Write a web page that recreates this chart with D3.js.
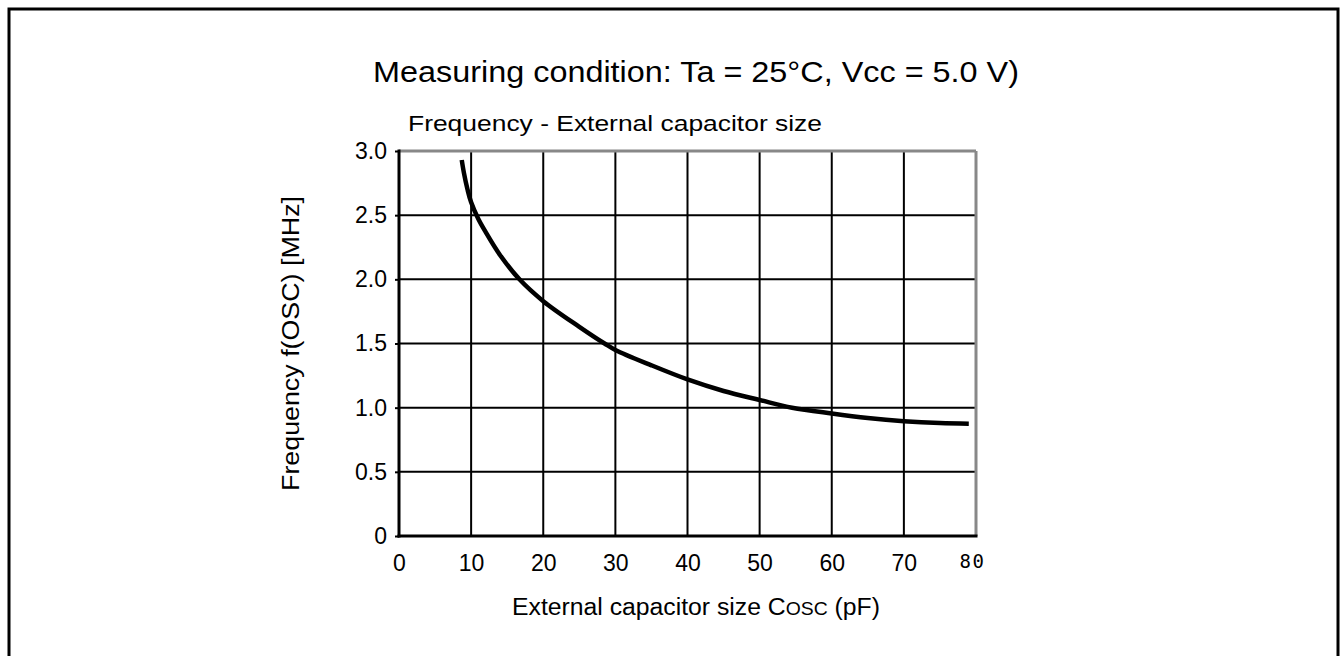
<!DOCTYPE html>
<html>
<head>
<meta charset="utf-8">
<script src="https://cdn.jsdelivr.net/npm/d3@7"></script>
<style>
  body { margin: 0; background: #fff; }
  svg { display: block; font-family: "Liberation Sans", Arial, sans-serif; }
</style>
</head>
<body>
<script>
// data
var capValues = [8.7, 9, 9.5, 10, 11, 12, 14, 16.7, 20, 25, 28.5, 30, 35, 40, 45, 50, 54.5, 60, 65, 70, 75, 79];
var freqValues = [2.93, 2.83, 2.7, 2.6, 2.47, 2.37, 2.19, 2.0, 1.83, 1.63, 1.5, 1.45, 1.33, 1.22, 1.13, 1.06, 1.0, 0.955, 0.92, 0.895, 0.88, 0.875];
var xTicks = [0, 10, 20, 30, 40, 50, 60, 70, 80];
var xTickLabels = ["0", "10", "20", "30", "40", "50", "60", "70", "80"];
var yTicks = [0, 0.5, 1.0, 1.5, 2.0, 2.5, 3.0];
var yTickLabels = ["0", "0.5", "1.0", "1.5", "2.0", "2.5", "3.0"];

var width = 1340, height = 656;
var svg = d3.select("body").append("svg")
            .attr("width", width)
            .attr("height", height);

// frame
svg.append("rect").attr("x", 9).attr("y", 9).attr("width", 1329).attr("height", 660)
   .attr("fill", "none").attr("stroke", "#000").attr("stroke-width", 3);

var padding = {left: 399, right: 364, top: 151, bottom: 120};
var w = width - padding.left - padding.right;
var h = height - padding.top - padding.bottom;

var xScale = d3.scaleLinear().domain([0, 80]).range([0, w]);
var yScale = d3.scaleLinear().domain([0, 3]).range([h, 0]);

var g = svg.append("g").attr("transform", "translate(" + padding.left + "," + padding.top + ")");

// grid
g.append("g").selectAll("line").data(xTicks.slice(1, -1)).enter().append("line")
 .attr("x1", function(d) { return xScale(d); }).attr("x2", function(d) { return xScale(d); })
 .attr("y1", 0).attr("y2", h).attr("stroke", "#000").attr("stroke-width", 2);
g.append("g").selectAll("line").data(yTicks.slice(1, -1)).enter().append("line")
 .attr("y1", function(d) { return yScale(d); }).attr("y2", function(d) { return yScale(d); })
 .attr("x1", 0).attr("x2", w).attr("stroke", "#000").attr("stroke-width", 2);

// top and right edges (gray)
g.append("line").attr("x1", 0).attr("x2", w).attr("y1", 0).attr("y2", 0)
 .attr("stroke", "#888").attr("stroke-width", 3);
g.append("line").attr("x1", w).attr("x2", w).attr("y1", 0).attr("y2", h)
 .attr("stroke", "#888").attr("stroke-width", 3);

// axes
var yAxis = d3.axisLeft(yScale).tickValues(yTicks).tickSize(4).tickPadding(8)
              .tickFormat(function(d, i) { return yTickLabels[i]; });
var xAxis = d3.axisBottom(xScale).tickValues(xTicks).tickSize(0).tickPadding(19)
              .tickFormat(function(d, i) { return xTickLabels[i]; });

var ya = g.append("g").call(yAxis);
ya.select(".domain").attr("stroke", "#000").attr("stroke-width", 3).attr("d", "M0,-1.5V" + (h + 1.5));
ya.selectAll(".tick line").attr("stroke", "#000").attr("stroke-width", 2);
ya.selectAll("text").style("font-size", "23px").attr("fill", "#000")
  .style("font-family", "Liberation Sans, Arial, sans-serif");

var xa = g.append("g").attr("transform", "translate(0," + h + ")").call(xAxis);
xa.select(".domain").attr("stroke", "#000").attr("stroke-width", 3).attr("d", "M-1.5,0H" + (w + 1.5));
xa.selectAll("text").style("font-size", "23px").attr("fill", "#000")
  .style("font-family", "Liberation Sans, Arial, sans-serif");
xa.selectAll("text").filter(function(d) { return d === 80; })
  .style("font-size", "19px").attr("letter-spacing", 1.5).style("font-family", "DejaVu Sans Mono, monospace")
  .attr("dx", -4);

// curve
var points = capValues.map(function(d, i) { return [d, freqValues[i]]; });
var line = d3.line()
  .x(function(d) { return xScale(d[0]); })
  .y(function(d) { return yScale(d[1]); })
  .curve(d3.curveCatmullRom.alpha(0.5));
g.append("path").datum(points).attr("d", line)
 .attr("fill", "none").attr("stroke", "#000").attr("stroke-width", 4.5);

// titles
svg.append("text").attr("x", 373).attr("y", 82)
   .attr("font-size", 29).attr("textLength", 646).attr("lengthAdjust", "spacingAndGlyphs")
   .text("Measuring condition: Ta = 25°C, Vcc = 5.0 V)");
svg.append("text").attr("x", 408).attr("y", 131)
   .attr("font-size", 22).attr("textLength", 414).attr("lengthAdjust", "spacingAndGlyphs")
   .text("Frequency - External capacitor size");

// axis labels
svg.append("text").attr("transform", "translate(299," + (padding.top + h / 2) + ") rotate(-90)")
   .attr("text-anchor", "middle").attr("font-size", 23)
   .attr("textLength", 295).attr("lengthAdjust", "spacingAndGlyphs")
   .text("Frequency f(OSC) [MHz]");

var xl = svg.append("text").attr("x", 512).attr("y", 615).attr("font-size", 23)
   .attr("textLength", 368).attr("lengthAdjust", "spacingAndGlyphs");
xl.append("tspan").text("External capacitor size C");
xl.append("tspan").attr("font-size", 18).text("OSC");
xl.append("tspan").text(" (pF)");
</script>
</body>
</html>
